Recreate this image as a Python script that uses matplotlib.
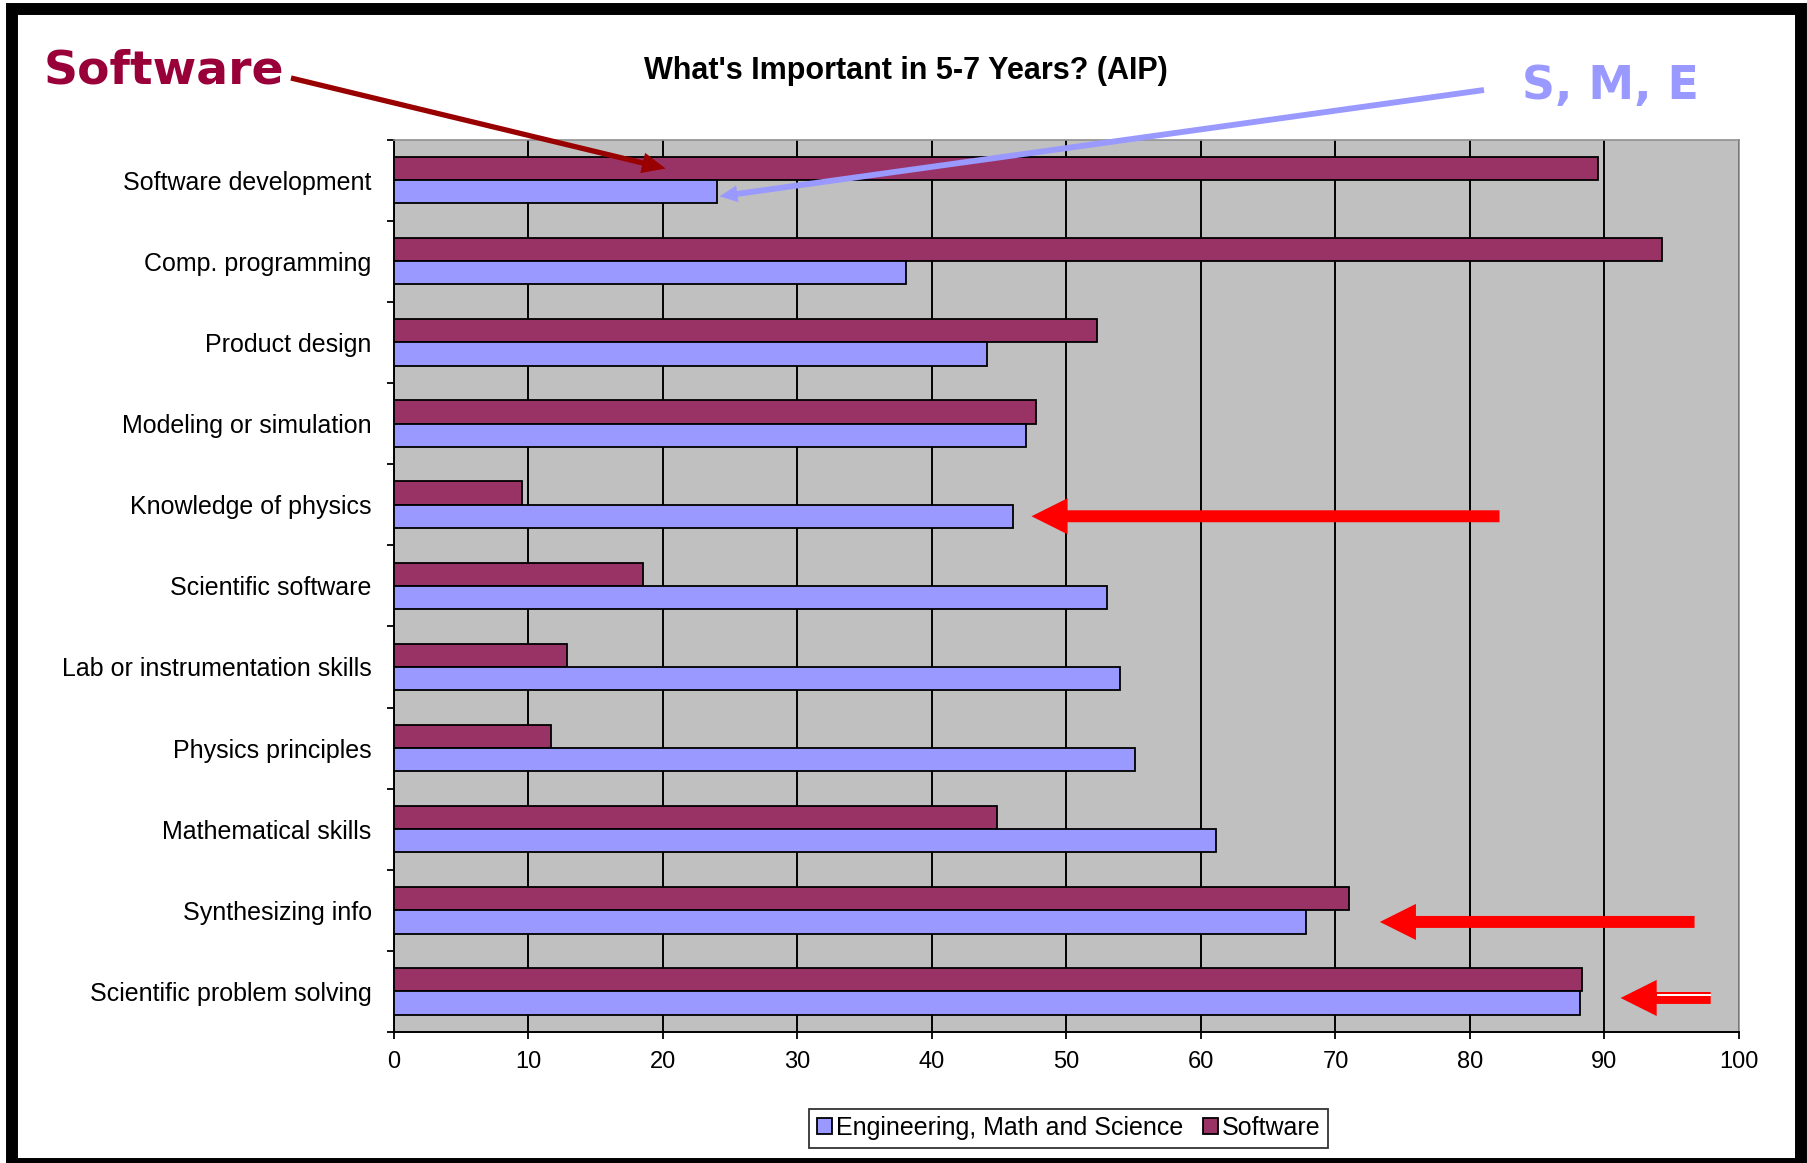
import numpy as np
import matplotlib.pyplot as plt
from matplotlib.patches import Rectangle

skills = ["Software development", "Comp. programming", "Product design",
          "Modeling or simulation", "Knowledge of physics", "Scientific software",
          "Lab or instrumentation skills", "Physics principles", "Mathematical skills",
          "Synthesizing info", "Scientific problem solving"]
ems = [24.0, 38.1, 44.1, 47.0, 46.0, 53.0, 54.0, 55.1, 61.1, 67.8, 88.2]
software = [89.5, 94.3, 52.3, 47.7, 9.5, 18.5, 12.9, 11.7, 44.8, 71.0, 88.3]
xticks = list(range(0, 101, 10))

EMS_COLOR = "#9999FF"
SW_COLOR = "#993366"
RED = "#FF0000"

plt.rcParams["font.family"] = ["Liberation Sans", "DejaVu Sans"]

fig = plt.figure(figsize=(18.08, 11.63), dpi=100)
ax = fig.add_axes([0.2179, 0.1126, 0.7439, 0.7674])
ax.set_facecolor("#C0C0C0")

n = len(skills)
y = np.arange(n)
h = 1 / 3.5  # excel gap width 150%
b_sw = ax.barh(y - h / 2, software, height=h, color=SW_COLOR, edgecolor="black",
               lw=1.3, zorder=3)
b_ems = ax.barh(y + h / 2, ems, height=h, color=EMS_COLOR, edgecolor="black",
                lw=1.3, zorder=3)

ax.set_xlim(0, 100)
ax.set_ylim(n - 0.5, -0.5)
ax.set_xticks(xticks)
ax.xaxis.grid(True, color="black", lw=1.4)
ax.set_axisbelow(True)

ax.set_yticks(y)
ax.set_yticklabels(skills)
ax.set_yticks(np.arange(-0.5, n, 1), minor=True)
ax.tick_params(axis="y", which="major", length=0, pad=16, labelsize=18)
ax.tick_params(axis="y", which="minor", length=5, width=1.3, direction="out")
ax.tick_params(axis="x", length=5, width=1.3, pad=9, labelsize=17)

for s in ["left", "bottom"]:
    ax.spines[s].set_color("black")
    ax.spines[s].set_linewidth(1.4)
for s in ["top", "right"]:
    ax.spines[s].set_color("#909090")
    ax.spines[s].set_linewidth(1.2)

fig.text(0.501, 0.939, "What's Important in 5-7 Years? (AIP)", ha="center",
         va="center", fontsize=22, fontweight="bold")

leg = fig.legend([b_ems, b_sw], ["Engineering, Math and Science", "Software"],
                 loc="center", bbox_to_anchor=(0.591, 0.030), ncol=2, fontsize=18,
                 frameon=True, fancybox=False, edgecolor="black",
                 handlelength=0.6, handleheight=0.6, handletextpad=0.15,
                 columnspacing=0.8, borderpad=0.3, borderaxespad=0)
leg.get_frame().set_linewidth(1.3)

# callout labels
fig.text(44 / 1808, 1 - 71 / 1163, "Software", ha="left", va="center",
         fontsize=34, fontweight="bold", color="#99003A", family="DejaVu Sans")
fig.text(1522 / 1808, 1 - 86 / 1163, "S, M, E", ha="left", va="center",
         fontsize=33, fontweight="bold", color=EMS_COLOR, family="DejaVu Sans")

ax.annotate("", xy=(20.2, y[0] - h / 2), xycoords="data",
            xytext=(291 / 1808, 1 - 78 / 1163), textcoords="figure fraction",
            arrowprops=dict(arrowstyle="simple,head_length=1.7,head_width=1.5,tail_width=0.38",
                            mutation_scale=10, fc="#990000", ec="none",
                            shrinkA=0, shrinkB=0), annotation_clip=False)
ax.annotate("", xy=(ems[0] + 0.2, y[0] + 0.2), xycoords="data",
            xytext=(1484 / 1808, 1 - 90 / 1163), textcoords="figure fraction",
            arrowprops=dict(arrowstyle="simple,head_length=1.3,head_width=1.2,tail_width=0.42",
                            mutation_scale=10, fc=EMS_COLOR, ec="none",
                            shrinkA=0, shrinkB=0), annotation_clip=False)

# red arrows inside the plot
red_style = "simple,head_length=2.6,head_width=2.6,tail_width=0.86"
red_arrows = [(47.4, 82.2, y[4] + h / 2), (73.3, 96.7, y[9] + h / 2), (91.2, 97.9, y[10] + 0.08)]
for tip, tail, yy in red_arrows:
    ax.annotate("", xy=(tip, yy), xytext=(tail, yy),
                arrowprops=dict(arrowstyle=red_style, mutation_scale=10, fc=RED,
                                ec="none", shrinkA=0, shrinkB=0), zorder=5)
# double shaft on the last arrow
tip, tail, yy = red_arrows[2]
ax.plot([tip + 2.7, tail], [yy - 0.035, yy - 0.035], color="white", lw=1.4, zorder=6,
        solid_capstyle="butt")

# outer black frame
fig.add_artist(Rectangle((11.5 / 1808, 1 - 1164 / 1163), (1801 - 11.5) / 1808,
                         (1164 - 9) / 1163, transform=fig.transFigure, fill=False,
                         ec="black", lw=8.6))

fig.savefig("out.png", dpi=100, facecolor="white")
